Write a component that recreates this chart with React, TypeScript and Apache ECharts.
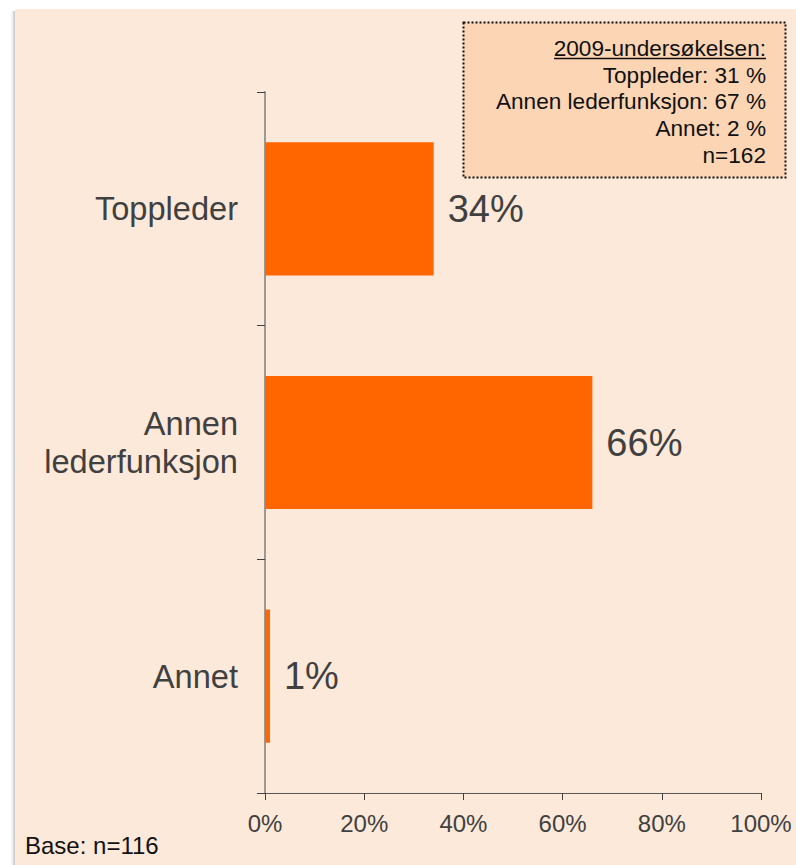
import React, { useEffect, useRef } from "react";
import * as echarts from "echarts";

const categories = ["Toppleder", "Annen\nlederfunksjon", "Annet"];
const values = [34, 66, 1];
const xTicks = [0, 20, 40, 60, 80, 100];
const noteTitle = "2009-undersøkelsen:";
const noteLines = ["Toppleder: 31 %", "Annen lederfunksjon: 67 %", "Annet: 2 %", "n=162"];
const baseNote = "Base: n=116";

const FONT = "Liberation Sans, Arial, sans-serif";

export default function App() {
  const ref = useRef<HTMLDivElement>(null);
  useEffect(() => {
    if (!ref.current) return;
    const chart = echarts.init(ref.current, null, { renderer: "svg" });
    const noteTexts = noteLines.map((t, i) => ({
      type: "text",
      x: 766,
      y: 75 + i * 26.8,
      style: {
        text: t,
        fill: "#111",
        font: `22.6px ${FONT}`,
        align: "right",
        verticalAlign: "middle",
      },
    }));
    chart.setOption({
      animation: false,
      textStyle: { fontFamily: FONT },
      graphic: [
        {
          type: "rect",
          z: -10,
          shape: { x: 11, y: 11, width: 4, height: 860 },
          style: {
            fill: new echarts.graphic.LinearGradient(0, 0, 1, 0, [
              { offset: 0, color: "rgba(0,0,0,0)" },
              { offset: 1, color: "rgba(0,0,0,0.22)" },
            ]),
          },
        },
        {
          type: "rect",
          z: -9,
          shape: { x: 15, y: 9, width: 800, height: 900 },
          style: { fill: "#FDE9D9" },
        },
        {
          type: "rect",
          shape: { x: 463.5, y: 22.5, width: 322, height: 155 },
          style: { fill: "#FCD5B4", stroke: "#111", lineWidth: 2, lineDash: [2, 2] },
        },
        {
          type: "text",
          x: 766,
          y: 48,
          style: {
            text: noteTitle,
            fill: "#111",
            font: `22.6px ${FONT}`,
            align: "right",
            verticalAlign: "middle",
          },
        },
        {
          type: "line",
          shape: { x1: 554, y1: 58.5, x2: 766, y2: 58.5 },
          style: { stroke: "#111", lineWidth: 1.5 },
        },
        ...noteTexts,
        {
          type: "text",
          x: 25,
          y: 845,
          style: {
            text: baseNote,
            fill: "#111",
            font: `24px ${FONT}`,
            align: "left",
            verticalAlign: "middle",
          },
        },
      ],
      grid: { left: 265, right: 35, top: 92, bottom: 72, containLabel: false },
      xAxis: {
        type: "value",
        min: 0,
        max: 100,
        interval: 20,
        axisLine: { show: true, lineStyle: { color: "#595959", width: 1 } },
        axisTick: { show: true, length: 7, lineStyle: { color: "#404040" } },
        splitLine: { show: false },
        axisLabel: {
          formatter: (v: number) => (xTicks.includes(v) ? `${v}%` : ""),
          color: "#404040",
          fontSize: 24,
          fontFamily: FONT,
          margin: 18,
        },
      },
      yAxis: {
        type: "category",
        data: categories,
        inverse: true,
        axisLine: { show: true, lineStyle: { color: "#999", width: 2 } },
        axisTick: { show: true, length: 8, lineStyle: { color: "#404040" } },
        axisLabel: {
          color: "#404040",
          fontSize: 32.6,
          fontFamily: FONT,
          margin: 27,
          lineHeight: 38,
          align: "right",
        },
      },
      series: [
        {
          type: "bar",
          data: values,
          barCategoryGap: "43%",
          itemStyle: { color: "#FF6600" },
          label: {
            show: true,
            position: "right",
            distance: 14,
            formatter: "{c}%",
            color: "#404040",
            fontSize: 38,
            fontFamily: FONT,
          },
        },
      ],
    });
    return () => chart.dispose();
  }, []);
  return (
    <div
      ref={ref}
      style={{ position: "fixed", left: 0, top: 0, width: 796, height: 865, background: "#fff" }}
    />
  );
}
